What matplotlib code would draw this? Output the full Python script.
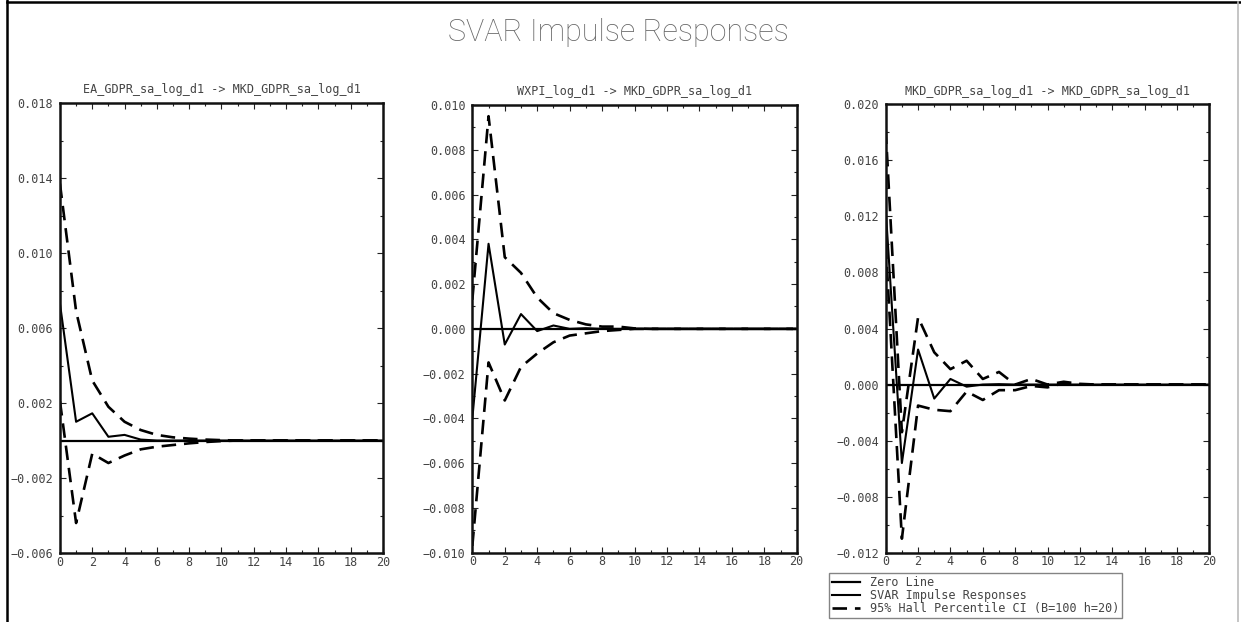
import numpy as np
import matplotlib
matplotlib.use("Agg")
import matplotlib.pyplot as plt
from matplotlib.ticker import MultipleLocator, AutoMinorLocator, FuncFormatter
from matplotlib.lines import Line2D

# horizons
steps = list(range(21))

titles = [
    "EA_GDPR_sa_log_d1 -> MKD_GDPR_sa_log_d1",
    "WXPI_log_d1 -> MKD_GDPR_sa_log_d1",
    "MKD_GDPR_sa_log_d1 -> MKD_GDPR_sa_log_d1",
]

# EA -> MKD
irf_ea = [0.0073, 0.0010, 0.00145, 0.0002, 0.0003, 0.00005, 0.0, 0.0, 0.0, 0.0, 0.0,
          0.0, 0.0, 0.0, 0.0, 0.0, 0.0, 0.0, 0.0, 0.0, 0.0]
up_ea = [0.0137, 0.0069, 0.0032, 0.0018, 0.0010, 0.00056, 0.0003, 0.00017, 0.0001, 0.00005, 0.00002,
         0.0, 0.0, 0.0, 0.0, 0.0, 0.0, 0.0, 0.0, 0.0, 0.0]
lo_ea = [0.0021, -0.0044, -0.0007, -0.0012, -0.0008, -0.00047, -0.00033, -0.00024, -0.00015, -0.00008, -0.00003,
         0.0, 0.0, 0.0, 0.0, 0.0, 0.0, 0.0, 0.0, 0.0, 0.0]

# WXPI -> MKD
irf_wx = [-0.0040, 0.0038, -0.0007, 0.00066, -0.0001, 0.00015, 0.0, 0.00003, 0.0, 0.0, 0.0,
          0.0, 0.0, 0.0, 0.0, 0.0, 0.0, 0.0, 0.0, 0.0, 0.0]
up_wx = [0.0013, 0.0095, 0.0032, 0.0025, 0.0014, 0.0007, 0.0004, 0.0002, 0.0001, 0.0001, 0.00002,
         0.0, 0.0, 0.0, 0.0, 0.0, 0.0, 0.0, 0.0, 0.0, 0.0]
lo_wx = [-0.0097, -0.0015, -0.0032, -0.0017, -0.0011, -0.0006, -0.0003, -0.0002, -0.0001, -0.00005, 0.0,
         0.0, 0.0, 0.0, 0.0, 0.0, 0.0, 0.0, 0.0, 0.0, 0.0]

# MKD -> MKD
irf_mk = [0.0125, -0.0056, 0.0025, -0.0010, 0.0004, -0.00015, 0.0, 0.00003, 0.0, 0.0, 0.0,
          0.0, 0.0, 0.0, 0.0, 0.0, 0.0, 0.0, 0.0, 0.0, 0.0]
up_mk = [0.0182, -0.0034, 0.0048, 0.0023, 0.0011, 0.0017, 0.0004, 0.0009, 0.0, 0.0004, 0.0,
         0.0002, 0.00005, 0.0, 0.0, 0.0, 0.0, 0.0, 0.0, 0.0, 0.0]
lo_mk = [0.0100, -0.0110, -0.0015, -0.0018, -0.0019, -0.0005, -0.0011, -0.0004, -0.0004, -0.0001, -0.0002,
         0.0001, 0.0, 0.0, 0.0, 0.0, 0.0, 0.0, 0.0, 0.0, 0.0]

ylims = [(-0.006, 0.018), (-0.010, 0.010), (-0.012, 0.020)]
ysteps = [0.004, 0.002, 0.004]
yoffsets = [0.002, 0.0, 0.0]

series = [(irf_ea, up_ea, lo_ea), (irf_wx, up_wx, lo_wx), (irf_mk, up_mk, lo_mk)]

# axes boxes in figure fractions (left, bottom, width, height)
boxes = [
    (0.0483, 0.1109, 0.2603, 0.7235),
    (0.3806, 0.1114, 0.2614, 0.7198),
    (0.7137, 0.1114, 0.2608, 0.7209),
]

txt_col = "#444"
mono = "DejaVu Sans Mono"

fig = plt.figure(figsize=(12.41, 6.22), dpi=100)
fig.patch.set_facecolor("white")

fmt = FuncFormatter(lambda v, p: ("%.3f" % v).replace("-", "\u2212") if abs(v) > 1e-12 else "0.000")
dash = (0, (5.5, 3))

for i in range(3):
    ax = fig.add_axes(boxes[i])
    irf, up, lo = series[i]
    ax.axhline(0, color="black", lw=1.6, label="Zero Line")
    ax.plot(steps, irf, color="black", lw=1.5, label="SVAR Impulse Responses")
    ax.plot(steps, up, color="black", lw=1.9, linestyle=dash,
            label="95% Hall Percentile CI (B=100 h=20)")
    ax.plot(steps, lo, color="black", lw=1.9, linestyle=dash)

    ax.set_xlim(0, 20)
    ax.set_ylim(*ylims[i])
    ax.xaxis.set_major_locator(MultipleLocator(2))
    ax.xaxis.set_minor_locator(AutoMinorLocator(2))
    ax.yaxis.set_major_locator(MultipleLocator(ysteps[i], offset=yoffsets[i]))
    ax.yaxis.set_minor_locator(MultipleLocator(ysteps[i] / 2))
    ax.yaxis.set_major_formatter(fmt)
    ax.tick_params(which="both", direction="in", top=True, right=True, colors="#222",
                   labelcolor=txt_col, labelsize=8.5, width=0.8)
    ax.tick_params(which="major", length=4)
    ax.tick_params(which="minor", length=2.5)
    ax.tick_params(axis="y", pad=5)
    ax.tick_params(axis="x", pad=2)
    for lab in ax.get_xticklabels() + ax.get_yticklabels():
        lab.set_family(mono)
    for s in ax.spines.values():
        s.set_linewidth(1.8)
        s.set_color("#111")
    ax.set_title(titles[i], fontsize=8.5, family=mono, color=txt_col, pad=7)

    if i == 2:
        leg = ax.legend(loc="upper left", bbox_to_anchor=(-0.175, -0.045), frameon=True,
                        prop={"family": mono, "size": 8.5}, handlelength=2.4,
                        handletextpad=0.8, labelspacing=0.0, borderpad=0.25,
                        borderaxespad=0, fancybox=False)
        leg.get_frame().set_edgecolor("#666")
        leg.get_frame().set_linewidth(1.0)
        for t in leg.get_texts():
            t.set_color(txt_col)

fig.text(0.498, 0.948, "SVAR Impulse Responses", ha="center", va="center",
         fontsize=22, color="#666", family=["Roboto", "DejaVu Sans"], fontweight="light")

# window frame
fig.add_artist(Line2D([7 / 1241, 7 / 1241], [0, 1], color="black", lw=1.8))
fig.add_artist(Line2D([7 / 1241, 1], [620 / 622, 620 / 622], color="black", lw=1.8))
fig.add_artist(Line2D([1238 / 1241, 1238 / 1241], [0, 620 / 622], color="#bbb", lw=1.2))

fig.savefig("out.png", dpi=100)
